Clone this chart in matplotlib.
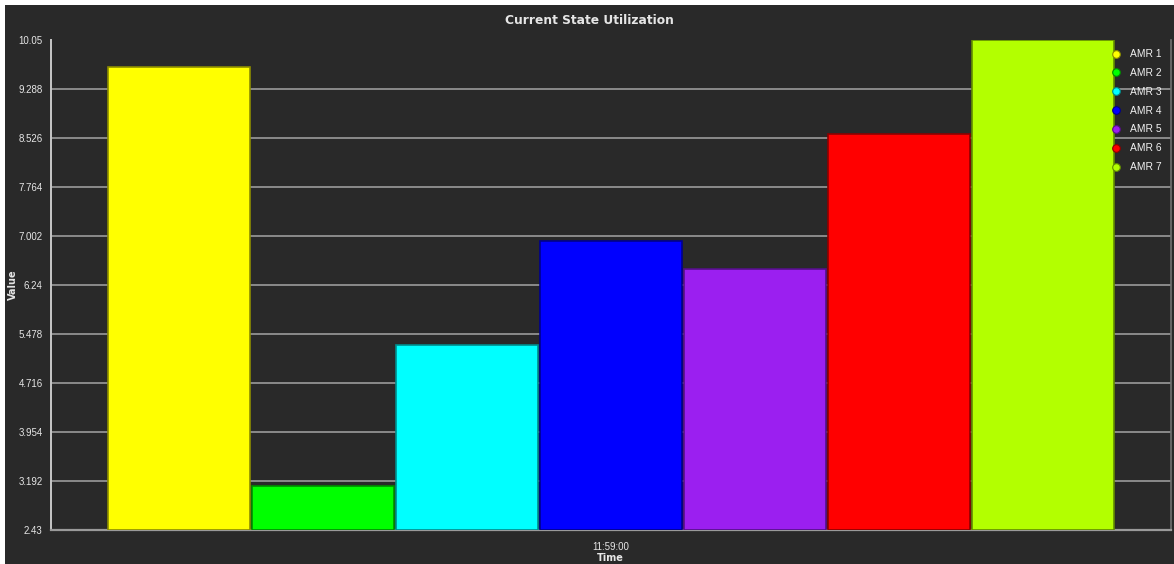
import matplotlib
matplotlib.use("Agg")
import matplotlib.pyplot as plt
from matplotlib.lines import Line2D
from matplotlib.patches import Rectangle
from matplotlib import font_manager

# ---- data ----
series = ["AMR 1", "AMR 2", "AMR 3", "AMR 4", "AMR 5", "AMR 6", "AMR 7"]
values = [9.63, 3.11, 5.31, 6.92, 6.49, 8.59, 10.05]
time_labels = ["11:59:00"]
y_ticks = [2.43, 3.192, 3.954, 4.716, 5.478, 6.24, 7.002, 7.764, 8.526, 9.288, 10.05]
y_tick_labels = ["2.43", "3.192", "3.954", "4.716", "5.478", "6.24", "7.002",
                 "7.764", "8.526", "9.288", "10.05"]

fills = ["#ffff00", "#00ff00", "#00ffff", "#0000ff", "#9b1ff0", "#ff0000", "#b3ff00"]
edges = ["#8c8c00", "#008c00", "#008c8c", "#00008c", "#551088", "#8c0000", "#628c00"]

BG = "#292929"
TXT = "#e6e6e6"

installed = {f.name for f in font_manager.fontManager.ttflist}
narrow = "Liberation Sans Narrow" if "Liberation Sans Narrow" in installed else "Liberation Sans"
plt.rcParams["font.family"] = ["DejaVu Sans"]

W, H = 1174, 564
fig = plt.figure(figsize=(W / 100, H / 100), dpi=100, facecolor="white")
# dark canvas leaving a thin white margin along the top and left edges
fig.patches.append(Rectangle((5 / W, 0), 1 - 5 / W, (H - 5) / H,
                             transform=fig.transFigure, facecolor=BG,
                             edgecolor="none", zorder=-10))

ax = fig.add_axes([51 / W, 34 / H, (1171 - 51) / W, (530 - 40) / H])
ax.set_facecolor(BG)

n = len(series)
group = 0.9
bw = group / n
for i, (name, v) in enumerate(zip(series, values)):
    x = -group / 2 + bw * (i + 0.5)
    ax.bar(x, v - y_ticks[0], bottom=y_ticks[0], width=bw * 0.988,
           color=fills[i], edgecolor=edges[i], linewidth=1.2, zorder=3)

ax.set_xlim(-0.5, 0.5)
ax.set_ylim(y_ticks[0], y_ticks[-1])
ax.set_yticks(y_ticks)
ax.set_yticklabels(y_tick_labels, fontsize=7, color=TXT, family=[narrow, "DejaVu Sans"])
ax.set_xticks([0])
ax.set_xticklabels(time_labels, fontsize=7, color=TXT, family=[narrow, "DejaVu Sans"])
ax.tick_params(axis="y", length=0, pad=6)
ax.tick_params(axis="x", length=0, pad=9)

# horizontal grid at every interior tick
for t in y_ticks[1:-1]:
    ax.axhline(t, color="#8a8a8a", linewidth=1.4, zorder=1)

ax.spines["top"].set_visible(False)
ax.spines["left"].set_color("#c8c8c8")
ax.spines["left"].set_linewidth(1.4)
ax.spines["bottom"].set_color("#9a9a9a")
ax.spines["bottom"].set_linewidth(1.6)
ax.spines["right"].set_color("#707070")
ax.spines["right"].set_linewidth(1.2)

fig.text(589 / W, 1 - 20 / H, "Current State Utilization", ha="center", va="center",
         fontsize=8.8, fontweight="bold", color=TXT)
fig.text(13 / W, 1 - 285 / H, "Value", ha="center", va="center", rotation=90,
         fontsize=7, fontweight="bold", color=TXT)
fig.text(610 / W, 1 - 558 / H, "Time", ha="center", va="center",
         fontsize=7, fontweight="bold", color=TXT)

handles = [Line2D([], [], linestyle="none", marker="o", markersize=5.5,
                  markerfacecolor=fills[i], markeredgecolor=edges[i],
                  markeredgewidth=0.8) for i in range(n)]
leg = fig.legend(handles, series, loc="upper left",
                 bbox_to_anchor=(1107 / W, 1 - 44 / H), frameon=False,
                 fontsize=7.4, labelcolor="#f0f0f0", handlelength=0.8,
                 handletextpad=0.9, labelspacing=0.86, borderpad=0)
for t in leg.get_texts():
    t.set_family([narrow, "DejaVu Sans"])

fig.savefig("out.png", dpi=100, facecolor=fig.get_facecolor())
